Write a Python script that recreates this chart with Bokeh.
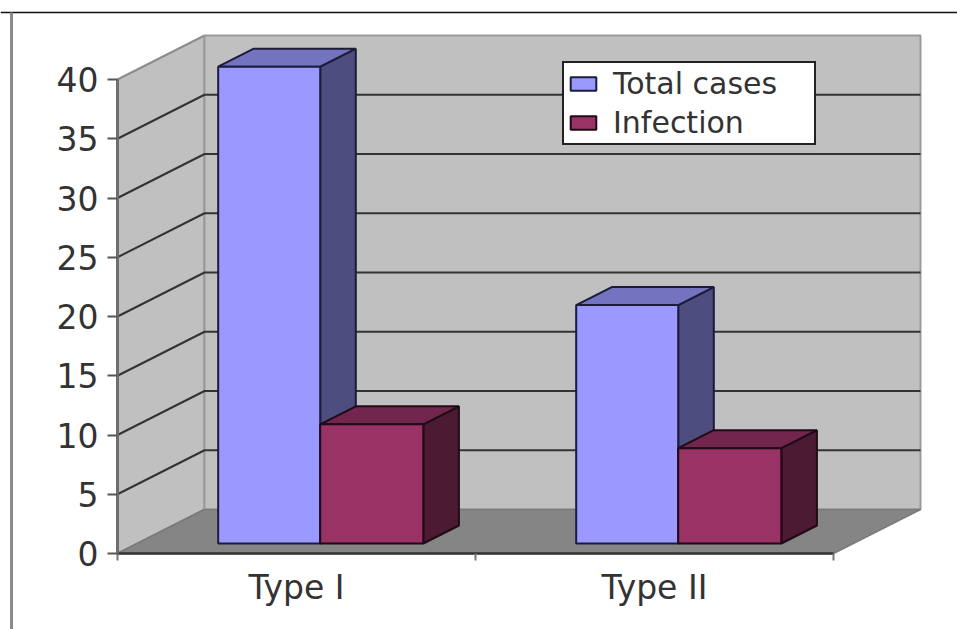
from bokeh.plotting import figure
from bokeh.models import (Range1d, LinearAxis, FixedTicker, Legend, LegendItem)
from bokeh.embed import file_html
from bokeh.resources import INLINE

categories = ["Type I", "Type II"]
total_cases = [40, 20]
infection = [10, 8]
y_ticks = [0, 5, 10, 15, 20, 25, 30, 35, 40]

# scale of the chart (screen pixels per data unit) and fake-3D projection
W, H = 957, 629
PX_X, PX_Y = 358.0, 11.85
ORIGIN_X, ORIGIN_Y = 117.0, 553.0   # inside the frame, from top-left
DX, DY = 87.0 / PX_X, 44.0 / PX_Y   # full depth of the chart box
D0, D1 = 10.0 / 44.0, 28.0 / 44.0   # depth span occupied by the bars
BAR_SCALE = 1.006
EDGES = [0.226, 0.511, 0.799]       # bar edges within a category

x_range = Range1d(-ORIGIN_X / PX_X, (W - ORIGIN_X) / PX_X)
y_range = Range1d(-(H - ORIGIN_Y) / PX_Y, ORIGIN_Y / PX_Y)
p = figure(width=W, height=H, x_range=x_range, y_range=y_range,
           x_axis_location=None, y_axis_location=None,
           output_backend="svg", toolbar_location=None, min_border=0,
           background_fill_color="white", border_fill_color="white")
p.grid.visible = False
p.outline_line_color = None

n = len(categories)
top = max(y_ticks)

# outer picture border
p.segment(x_range.start, 45.65, x_range.end, 45.65, line_color="#111111", line_width=1.5)
p.segment(-0.296, y_range.start, -0.296, 45.65, line_color="#8a8a8a", line_width=3)

# walls and floor
wall = "#C0C0C0"
p.patch([0, DX, DX, 0], [0, DY, top + DY, top], fill_color=wall, line_color="#8c8c8c", line_width=2)
p.patch([DX, n + DX, n + DX, DX], [DY, DY, top + DY, top + DY], fill_color=wall, line_color="#9a9a9a", line_width=2)
p.patch([0, n, n + DX, DX], [0, 0, DY, DY], fill_color="#858585", line_color="#7a7a7a", line_width=1.5)

# gridlines on side wall and back wall
grid = [t for t in y_ticks if 0 < t < top]
p.multi_line([[0, DX, n + DX] for t in grid],
             [[t, t + DY, t + DY] for t in grid],
             line_color="#333333", line_width=2)


def draw_bar(x0, x1, v, front, side, roof, edge):
    y0 = D0 * DY
    yt = y0 + v * BAR_SCALE
    ax0, ax1 = x0 + D0 * DX, x1 + D0 * DX
    bx = (D1 - D0) * DX
    by = (D1 - D0) * DY
    p.patch([ax1, ax1 + bx, ax1 + bx, ax1], [y0, y0 + by, yt + by, yt],
            fill_color=side, line_color=edge, line_width=2)
    p.patch([ax0, ax1, ax1 + bx, ax0 + bx], [yt, yt, yt + by, yt + by],
            fill_color=roof, line_color=edge, line_width=2)
    return p.quad(left=ax0, right=ax1, bottom=y0, top=yt,
                  fill_color=front, line_color=edge, line_width=2)


r_total = r_inf = None
for i in range(n):
    r_total = draw_bar(i + EDGES[0], i + EDGES[1], total_cases[i],
                       "#9999FF", "#4D4D80", "#7373BF", "#1c1c3a")
    r_inf = draw_bar(i + EDGES[1], i + EDGES[2], infection[i],
                     "#993366", "#4D1A33", "#73264D", "#200a18")

# value axis
yax = LinearAxis(fixed_location=0, ticker=FixedTicker(ticks=y_ticks), bounds=(0, top))
yax.axis_line_color = "#6e6e6e"
yax.axis_line_width = 3
yax.major_tick_line_color = "#555555"
yax.major_tick_line_width = 2
yax.major_tick_out = 10
yax.major_tick_in = 0
yax.minor_tick_line_color = None
yax.major_label_standoff = 9
yax.major_label_text_font = "DejaVu Sans"
yax.major_label_text_font_size = "33px"
yax.major_label_text_color = "#333333"
p.add_layout(yax, "left")

# category axis: labels on the major ticks, tick marks on the minor ones
lab_ticks = [i + 0.5 for i in range(n)]
xax = LinearAxis(fixed_location=0, bounds=(0, n),
                 ticker=FixedTicker(ticks=lab_ticks, minor_ticks=list(range(n + 1))))
xax.major_label_overrides = {t: c for t, c in zip(lab_ticks, categories)}
xax.axis_line_color = "#333333"
xax.axis_line_width = 2.5
xax.major_tick_line_color = None
xax.major_tick_out = 0
xax.major_tick_in = 0
xax.minor_tick_line_color = "#777777"
xax.minor_tick_line_width = 2
xax.minor_tick_out = 7
xax.minor_tick_in = 0
xax.major_label_standoff = 7
xax.major_label_text_font = "DejaVu Sans"
xax.major_label_text_font_size = "33px"
xax.major_label_text_color = "#333333"
p.add_layout(xax, "below")

legend = Legend(items=[LegendItem(label="Total cases", renderers=[r_total]),
                       LegendItem(label="Infection", renderers=[r_inf])],
                location=(562, H - 145), orientation="vertical", margin=0, padding=3,
                spacing=4, glyph_width=32, glyph_height=17, label_height=15,
                label_width=198, label_standoff=14)
legend.label_text_font = "DejaVu Sans"
legend.label_text_font_size = "30px"
legend.label_text_line_height = 0.9
legend.label_text_color = "#333333"
legend.border_line_color = "#222222"
legend.border_line_alpha = 1
legend.border_line_width = 2
legend.background_fill_color = "white"
legend.background_fill_alpha = 1
p.add_layout(legend)

open("out.html", "w").write(file_html(p, INLINE))
